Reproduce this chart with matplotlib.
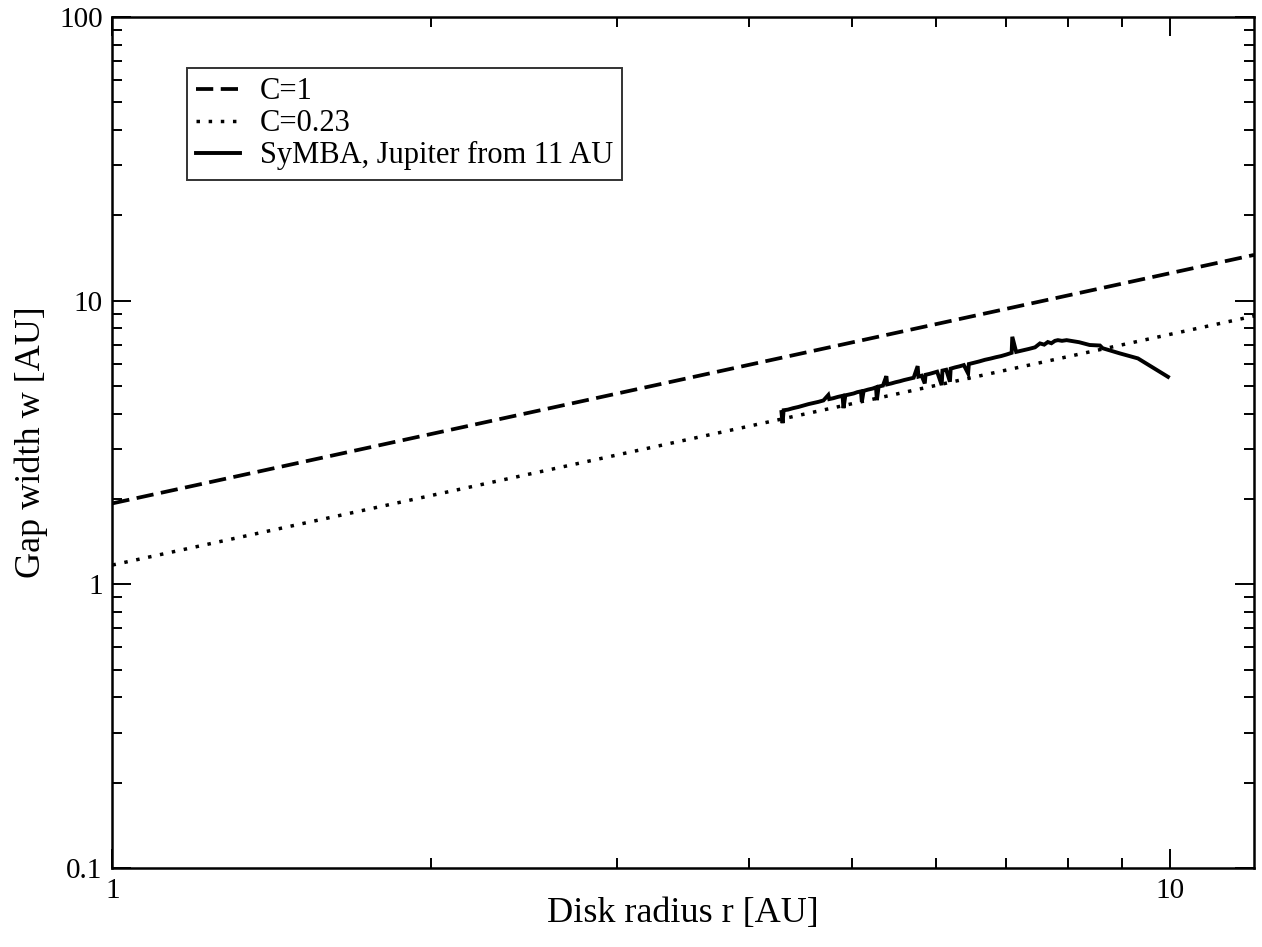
import matplotlib.pyplot as plt
from matplotlib.ticker import FixedLocator, NullFormatter

plt.rcParams['font.family'] = ['Liberation Serif', 'DejaVu Serif']

# analytic gap width lines (straight in log-log, end points)
r_line = [1.0, 12.0]
w_c1 = [1.93, 14.5]
w_c023 = [1.17, 8.83]

# SyMBA run, Jupiter from 11 AU
r_symba = [4.29, 4.30, 4.31, 4.35, 4.40, 4.45, 4.50, 4.55, 4.60, 4.65,
           4.70, 4.75, 4.76, 4.80, 4.85, 4.90, 4.91, 4.93, 4.97, 5.02,
           5.06, 5.10, 5.11, 5.13, 5.18, 5.23, 5.27, 5.28, 5.30, 5.35,
           5.39, 5.40, 5.45, 5.50, 5.55, 5.60, 5.66, 5.72, 5.77, 5.78,
           5.82, 5.86, 5.87, 5.92, 5.97, 6.02, 6.08, 6.09, 6.14, 6.19,
           6.20, 6.26, 6.32, 6.38, 6.44, 6.45, 6.52, 6.60, 6.68, 6.76,
           6.84, 6.92, 7.00, 7.08, 7.09, 7.15, 7.25, 7.35, 7.45, 7.53,
           7.60, 7.66, 7.72, 7.78, 7.83, 7.90, 7.98, 8.20, 8.39, 8.58,
           8.63, 8.96, 9.32, 9.95]
w_symba = [4.05, 3.70, 4.11, 4.13, 4.18, 4.22, 4.27, 4.32, 4.36, 4.40,
           4.45, 4.65, 4.50, 4.53, 4.58, 4.62, 4.18, 4.64, 4.67, 4.71,
           4.76, 4.79, 4.40, 4.81, 4.86, 4.90, 4.95, 4.46, 4.98, 5.02,
           5.42, 5.07, 5.11, 5.16, 5.20, 5.25, 5.30, 5.35, 5.88, 5.40,
           5.44, 5.11, 5.48, 5.52, 5.57, 5.62, 5.04, 5.67, 5.71, 5.18,
           5.76, 5.82, 5.87, 5.93, 5.54, 5.98, 6.04, 6.11, 6.19, 6.25,
           6.32, 6.38, 6.46, 6.55, 7.46, 6.60, 6.68, 6.76, 6.85, 7.07,
           7.00, 7.15, 7.08, 7.22, 7.26, 7.22, 7.26, 7.14, 6.98, 6.95,
           6.80, 6.52, 6.26, 5.39]

fig = plt.figure(figsize=(12.62, 9.47), dpi=100)
ax = fig.add_axes([0.0891, 0.0834, 0.9046, 0.8986])

ax.plot(r_line, w_c1, color='black', lw=2.7, dashes=[4.6, 2.0], label='C=1')
ax.plot(r_line, w_c023, color='black', lw=2.5, dashes=[1.0, 2.5], label='C=0.23')
ax.plot(r_symba, w_symba, color='black', lw=2.8, solid_joinstyle='miter',
        label='SyMBA, Jupiter from 11 AU')

ax.set_xscale('log')
ax.set_yscale('log')
ax.set_xlim(1, 12)
ax.set_ylim(0.1, 100)

ax.set_xticks([1, 10])
ax.set_xticklabels(['1', '10'])
ax.set_yticks([0.1, 1, 10, 100])
ax.set_yticklabels(['0.1', '1', '10', '100'])
ax.xaxis.set_minor_locator(FixedLocator([2, 3, 4, 5, 6, 7, 8, 9]))
ax.yaxis.set_minor_locator(FixedLocator([m * 10.0 ** e for e in (-1, 0, 1)
                                         for m in range(2, 10)]))
ax.xaxis.set_minor_formatter(NullFormatter())
ax.yaxis.set_minor_formatter(NullFormatter())

ax.tick_params(which='both', direction='in', top=True, right=True,
               width=1.4, labelsize=21, pad=7)
ax.tick_params(which='major', length=14)
ax.tick_params(which='minor', length=7)
for s in ax.spines.values():
    s.set_linewidth(1.8)

ax.set_xlabel('Disk radius r [AU]', fontsize=26, labelpad=-5)
ax.set_ylabel('Gap width w [AU]', fontsize=26, labelpad=8)

leg = ax.legend(loc='upper left', bbox_to_anchor=(0.065, 0.94), fontsize=22,
                frameon=True, fancybox=False, edgecolor='black',
                handlelength=1.45, handletextpad=0.65, borderpad=0.3,
                labelspacing=0.1, borderaxespad=0)
leg.get_frame().set_linewidth(1.4)

fig.savefig('out.png', dpi=100)
